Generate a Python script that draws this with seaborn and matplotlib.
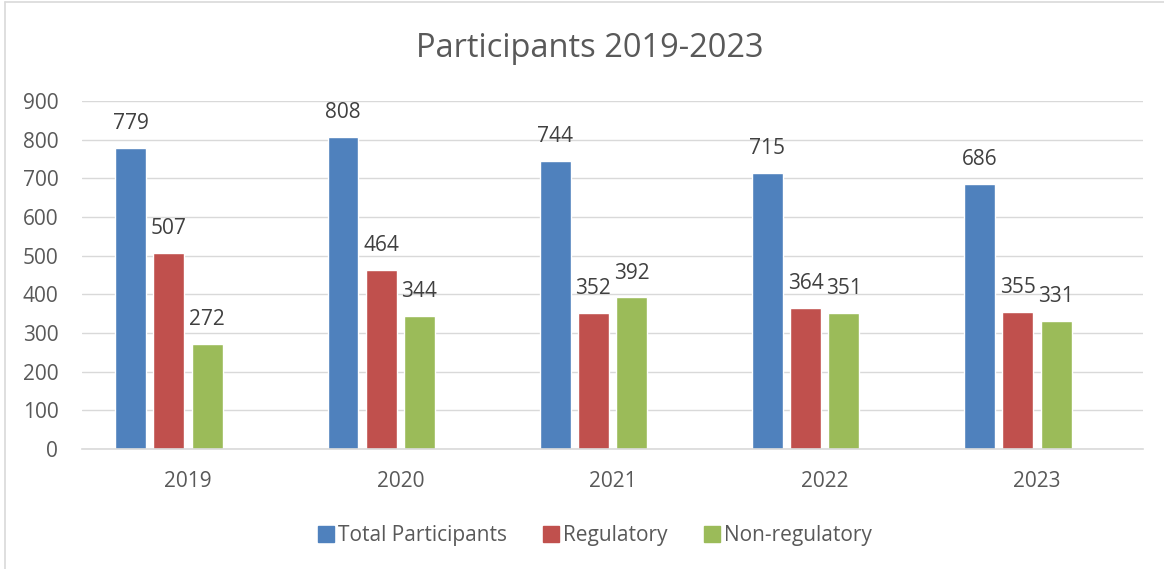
import matplotlib
matplotlib.use("Agg")
import matplotlib.pyplot as plt
import pandas as pd
import seaborn as sns
from matplotlib.lines import Line2D

# chart data
years = ["2019", "2020", "2021", "2022", "2023"]
total = [779, 808, 744, 715, 686]
regulatory = [507, 464, 352, 364, 355]
non_regulatory = [272, 344, 392, 351, 331]
series = ["Total Participants", "Regulatory", "Non-regulatory"]

df = pd.DataFrame({"Year": years * 3,
                   "Count": total + regulatory + non_regulatory,
                   "Series": [series[0]] * 5 + [series[1]] * 5 + [series[2]] * 5})

pal = ["#4F81BD", "#C0504D", "#9BBB59"]
txt = "#595959"

sns.set_style("white")
plt.rcParams['font.family'] = ['Open Sans', 'DejaVu Sans']

fig = plt.figure(figsize=(11.64, 5.69), dpi=100)
ax = fig.add_axes([0.0704, 0.2109, 0.9116, 0.6116])

# the original workbook reserves a 4th (empty) series slot, so groups sit left of the tick
sns.barplot(data=df, x="Year", y="Count", hue="Series", hue_order=series + ["(empty)"],
            palette=pal + ["#FFFFFF"], width=0.72, gap=0.19, saturation=1, ax=ax)

ax.set_ylim(0, 900)
ax.set_xlim(-0.5, 4.5)
ax.set_yticks(range(0, 901, 100))
ax.yaxis.grid(True, color="#D9D9D9", linewidth=1)
ax.set_axisbelow(True)
for s in ["top", "right", "left"]:
    ax.spines[s].set_visible(False)
ax.spines["bottom"].set_color("#D9D9D9")
ax.spines["bottom"].set_linewidth(1.2)
ax.tick_params(axis="both", length=0, labelsize=15, labelcolor=txt)
ax.tick_params(axis="x", pad=16)
ax.tick_params(axis="y", pad=17)
ax.set_xlabel("")
ax.set_ylabel("")

for c in ax.containers:
    ax.bar_label(c, padding=10, fontsize=15, color="#404040")

ax.get_legend().remove()
handles = [Line2D([], [], marker="s", linestyle="", markersize=11,
                  markerfacecolor=col, markeredgecolor=col) for col in pal]
fig.legend(handles, series, loc="center", bbox_to_anchor=(0.51, 0.059), ncol=3,
           frameon=False, fontsize=15, labelcolor=txt, handletextpad=0.1,
           columnspacing=1.6, handlelength=1.0)

fig.text(0.507, 0.914, "Participants 2019-2023", ha="center", va="center",
         fontsize=23.5, color=txt)

# outer chart border (left and top)
fig.add_artist(Line2D([0.0045, 0.0045], [0, 0.9965], color="#D9D9D9", linewidth=1.2,
                      transform=fig.transFigure))
fig.add_artist(Line2D([0.0045, 1], [0.9965, 0.9965], color="#D9D9D9", linewidth=1.2,
                      transform=fig.transFigure))

fig.savefig("out.png", dpi=100)
